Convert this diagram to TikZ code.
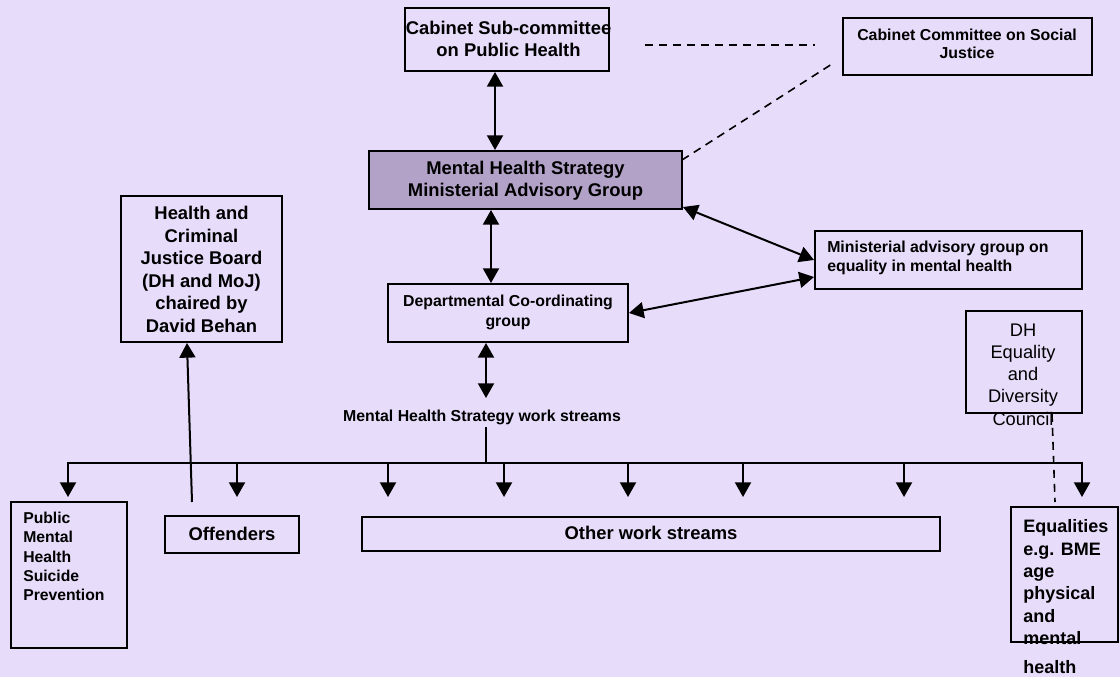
\documentclass[tikz,border=0pt]{standalone}
\usepackage{fontspec}
\setmainfont{Liberation Sans}
\usetikzlibrary{arrows.meta}
\definecolor{bg}{HTML}{E7DDFB}
\definecolor{mhsfill}{HTML}{B2A2C7}
\begin{document}
\begin{tikzpicture}[x=0.75pt,y=-0.75pt,
  box/.style={draw=black, line width=1.5pt, inner sep=0pt, rectangle},
  bigtxt/.style={font=\fontsize{13.8}{16.6}\selectfont\bfseries, align=center, inner sep=0pt},
  smtxt/.style={font=\fontsize{11.9}{14}\selectfont\bfseries, align=center, inner sep=0pt},
  conn/.style={line width=1.5pt, -{Triangle[length=11pt,width=12pt]}},
  dbl/.style={line width=1.5pt, {Triangle[length=11pt,width=12pt]}-{Triangle[length=11pt,width=12pt]}},
  dsh/.style={line width=1.2pt, dash pattern=on 6pt off 4.5pt}]
\fill[bg] (0,0) rectangle (1120,677);
\useasboundingbox (0,0) rectangle (1120,677);

% boxes
\node[box, minimum width=204*0.75pt, minimum height=63*0.75pt] (csc) at (507,39.5) {};
\node[bigtxt] (csc-t) at (508.5,39) {Cabinet Sub-committee\\on Public Health};

\node[box, minimum width=249*0.75pt, minimum height=57*0.75pt] (ccsj) at (967.5,46.5) {};
\node[smtxt, font=\fontsize{11.9}{13.9}\selectfont\bfseries] (ccsj-t) at (967,44) {Cabinet Committee on Social\\Justice};

\node[box, fill=mhsfill, minimum width=313*0.75pt, minimum height=58*0.75pt] (mhs) at (525.5,180) {};
\node[bigtxt] (mhs-t) at (525.5,181) {Mental Health Strategy\\Ministerial Advisory Group};

\node[box, minimum width=161*0.75pt, minimum height=146*0.75pt] (hcj) at (201.5,269) {};
\node[bigtxt, font=\fontsize{13.8}{16.95}\selectfont\bfseries] (hcj-t) at (201.5,269.5) {Health and\\Criminal\\Justice Board\\(DH and MoJ)\\chaired by\\David Behan};

\node[box, minimum width=267*0.75pt, minimum height=58*0.75pt] (eq) at (948.5,260) {};
\node[smtxt, font=\fontsize{11.9}{14.25}\selectfont\bfseries, align=left, anchor=west] (eq-t) at (827,257.5) {Ministerial advisory group on\\equality in mental health};

\node[box, minimum width=240*0.75pt, minimum height=58*0.75pt] (dcg) at (508,313) {};
\node[smtxt, font=\fontsize{11.9}{15}\selectfont\bfseries] (dcg-t) at (508,312) {Departmental Co-ordinating\\group};

\node[smtxt] (ws) at (482,417) {Mental Health Strategy work streams};

\node[box, line width=1.2pt, minimum width=116*0.75pt, minimum height=102*0.75pt] (dh) at (1024,362) {};
\node[font=\fontsize{13.7}{16.7}\selectfont, align=center, inner sep=0pt] (dh-t) at (1023,374.5) {DH\\Equality\\and\\Diversity\\Council};

\node[box, minimum width=116*0.75pt, minimum height=146*0.75pt] (pub) at (69,575) {};
\node[smtxt, font=\fontsize{11.8}{14.4}\selectfont\bfseries, align=left, anchor=west] (pub-t) at (23,556.5) {Public\\Mental\\Health\\Suicide\\Prevention};

\node[box, minimum width=134*0.75pt, minimum height=37*0.75pt] (off) at (232,534.5) {};
\node[bigtxt] (off-t) at (232,534) {Offenders};

\node[box, minimum width=578*0.75pt, minimum height=34*0.75pt] (other) at (651,534) {};
\node[bigtxt] (other-t) at (651,533) {Other work streams};

\node[box, minimum width=107*0.75pt, minimum height=135*0.75pt] (equ) at (1064.5,574.5) {};
\node[bigtxt, font=\fontsize{13.5}{16.8}\selectfont\bfseries, align=left, anchor=west] (equ-t) at (1023,596.5) {Equalities\\e.g. BME\\age\\physical\\and\\mental\\[4.5pt]health};

% connectors
\draw[dbl] ([xshift=-9pt]csc.south) -- ([xshift=-9pt]csc.south |- mhs.north);
\draw[dbl] ([xshift=-12.75pt]dcg.north) -- ([xshift=-12.75pt]dcg.north |- mhs.south);
\coordinate (wsin) at (486,398);
\draw[dbl] (wsin |- dcg.south) -- (wsin);
\draw[dbl] ([yshift=2.25pt]mhs.south east) -- (eq.west);
\draw[dbl] (dcg.east) -- ([yshift=-12.75pt]eq.west);

% bus
\coordinate (busL) at (68,463);
\coordinate (busR) at (1082,463);
\coordinate (wsout) at (486,427);
\draw[line width=1.5pt] (wsout) -- (wsout |- busL);
\draw[line width=1.5pt, line cap=rect] (busL) -- (busR);
\foreach \x [count=\i] in {68,237,388,504,628,743,904,1082} {
  \coordinate (t\i) at (\x,497);
  \draw[conn] (t\i |- busL) -- (t\i);
}

\coordinate (offtop) at (192,502);
\draw[conn] (offtop) -- ([xshift=-10.9pt]hcj.south);

% dashed
\coordinate (d1a) at (645,45);
\coordinate (d1b) at (815,45);
\draw[dsh] (d1a) -- (d1b);
\coordinate (d2a) at (682,160);
\coordinate (d2b) at (832,64);
\draw[dsh] (d2a) -- (d2b);
\coordinate (d3b) at (1055,502);
\draw[dsh] ([xshift=21pt]dh.south) -- (d3b);
\end{tikzpicture}
\end{document}
